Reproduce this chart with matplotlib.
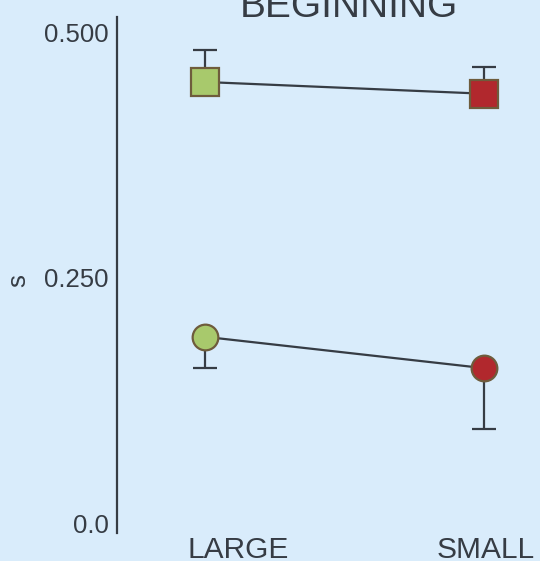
import matplotlib
matplotlib.use("Agg")
import matplotlib.pyplot as plt

plt.rcParams['font.family'] = ['Liberation Sans', 'DejaVu Sans']

# Mean s per condition, with one-sided error bars
categories = ["LARGE", "SMALL"]
square_vals = [0.450, 0.438]
square_err_up = [0.033, 0.027]
circle_vals = [0.190, 0.158]
circle_err_down = [0.032, 0.062]
y_ticks = [0.0, 0.25, 0.5]
y_tick_labels = ["0.0", "0.250", "0.500"]

bg = "#d9ecfb"
ink = "#363c44"
edge = "#6e5c3c"
fills = ["#a8c96c", "#b1282d"]

fig = plt.figure(figsize=(5.40, 5.61), dpi=100, facecolor=bg)
ax = fig.add_axes([117 / 540, 28 / 561, 423 / 540, 516 / 561], facecolor=bg)

x = list(range(len(categories)))

# connecting lines
ax.plot(x, square_vals, color=ink, lw=1.6, zorder=2)
ax.plot(x, circle_vals, color=ink, lw=1.6, zorder=2)

# error bars
ax.errorbar(x, square_vals, yerr=[[0] * len(x), square_err_up], fmt="none",
            ecolor=ink, elinewidth=1.6, capsize=8.3, capthick=1.6, zorder=1)
ax.errorbar(x, circle_vals, yerr=[circle_err_down, [0] * len(x)], fmt="none",
            ecolor=ink, elinewidth=1.6, capsize=8.3, capthick=1.6, zorder=1)

# markers
for xi, v, c in zip(x, square_vals, fills):
    ax.plot(xi, v, marker="s", ms=19.5, mfc=c, mec=edge, mew=1.6, zorder=3)
for xi, v, c in zip(x, circle_vals, fills):
    ax.plot(xi, v, marker="o", ms=18.5, mfc=c, mec=edge, mew=1.6, zorder=3)

ax.set_xlim(-0.315, 1.2)
ax.set_ylim(-0.0102, 0.5163)

ax.set_yticks(y_ticks)
ax.set_yticklabels(y_tick_labels)
ax.set_xticks([0.118, 1.007])
ax.set_xticklabels(categories)
ax.tick_params(axis="both", length=0, colors=ink, labelsize=18.5)
ax.tick_params(axis="x", pad=2, labelsize=21.5)
ax.tick_params(axis="y", pad=6)

for side in ["top", "right", "bottom"]:
    ax.spines[side].set_visible(False)
ax.spines["left"].set_color(ink)
ax.spines["left"].set_linewidth(1.6)

ax.set_ylabel("s", fontsize=18.5, color=ink, rotation=90)
ax.yaxis.set_label_coords(-0.205, 0.49)

ax.text(0.548, 1.0, "BEGINNING", transform=ax.transAxes, fontsize=28,
        color=ink, ha="center", va="baseline", clip_on=False)

fig.savefig("out.png", dpi=100, facecolor=bg)
